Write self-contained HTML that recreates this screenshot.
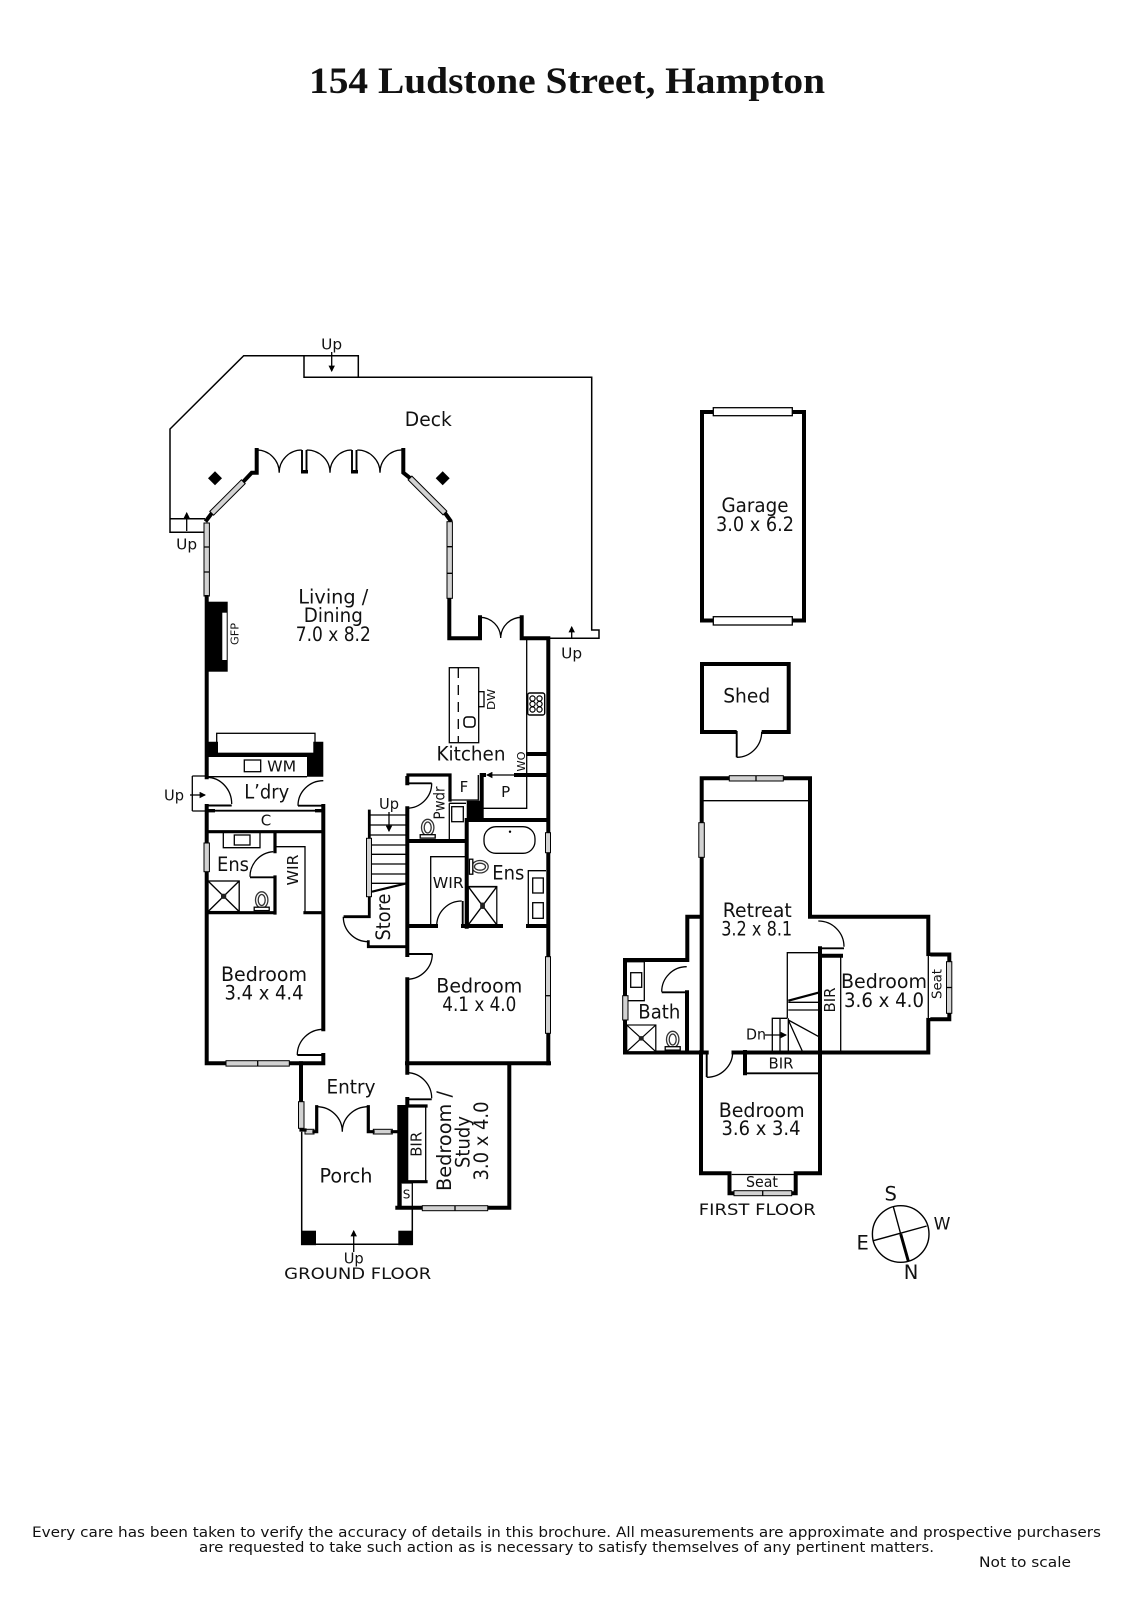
<!DOCTYPE html>
<html><head><meta charset="utf-8"><style>
html,body{margin:0;padding:0;background:#fff}
svg{display:block}
text{font-family:"DejaVu Sans","Liberation Sans",sans-serif;fill:#111;text-anchor:middle}
.l{font-size:19.5px}.m{font-size:15px}.s{font-size:11px}
.w{fill:none;stroke:#000;stroke-width:4;stroke-linecap:square;stroke-linejoin:miter}
.n{fill:none;stroke:#000;stroke-width:1.3}
.g{fill:none;stroke:#000;stroke-width:1.9}
.win{fill:#d2d2d2;stroke:#000;stroke-width:1}
.wht{fill:#fff;stroke:#000;stroke-width:1.3}
</style></head><body>
<svg width="1131" height="1600" viewBox="0 0 1131 1600" xmlns="http://www.w3.org/2000/svg">
<defs>
<marker id="a" viewBox="0 0 6 6" refX="5" refY="3" markerWidth="5" markerHeight="5" orient="auto"><path d="M0 0L6 3L0 6z" fill="#000"/></marker>
<g id="toilet"><ellipse cx="0" cy="0" rx="6.2" ry="8.2" fill="#fff" stroke="#333" stroke-width="1.3"/><ellipse cx="0" cy="0" rx="3.5" ry="5.5" fill="#fff" stroke="#333" stroke-width="1.3"/><rect x="-7.5" y="7.2" width="15" height="3.4" fill="#fff" stroke="#000" stroke-width="1.3"/></g>
<g id="shower"><rect x="0" y="0" width="30" height="30" fill="#fff" stroke="#000" stroke-width="1.3"/><path d="M0 0L30 30M30 0L0 30" class="n"/><rect x="12.5" y="12.5" width="5" height="5" fill="#222"/></g>
</defs>
<rect width="1131" height="1600" fill="#fff"/>
<text x="567" y="93" textLength="516" lengthAdjust="spacingAndGlyphs" style="font-family:'Liberation Serif',serif;font-weight:700;font-size:37px">154 Ludstone Street, Hampton</text>

<!-- Deck -->
<path class="n" style="stroke-width:1.5" d="M205 532.3H170V429L243.7 355.7H358.3V377.3H591.7V630H599V638.3H549M304 355.7V377.3H358.3M170 518.7H205"/>
<path d="M215 471.3L222 478.3L215 485.3L208 478.3zM442.7 471.3L449.7 478.3L442.7 485.3L435.7 478.3z" fill="#000"/>
<path class="w" d="M206.7 520L211.7 513.3M243.3 481.7L251.7 472.7H256.7V450M410 478L403.3 472.7V450M445 513L450 520M449.3 598V638.3H480V617.3M521.7 617.3V638.3H548.3M548.3 638.3V1063.3"/>
<path class="g" d="M302 450V472.7M306.5 450V472.7M352 450V472.7M356.5 450V472.7"/>
<path d="M301 470h7v3.5h-7zM351 470h7v3.5h-7z" fill="#000"/>
<path class="n" d="M256.7 450A22.5 22.7 0 0 1 279.2 472.7M301.7 450A22.5 22.7 0 0 0 279.2 472.7M306.7 450A23.3 22.7 0 0 1 330 472.7M351.7 450A21.7 22.7 0 0 0 330 472.7M357.3 450A22.7 22.7 0 0 1 380 472.7M401.7 450A21.7 22.7 0 0 0 380 472.7M480 617.3A20.7 21 0 0 1 500.7 638M521.7 617.3A21 21 0 0 0 500.7 638"/>
<!-- Living windows -->
<rect class="win" x="204" y="523" width="5.4" height="73"/><path class="n" d="M204 547h5.4M204 572h5.4"/>
<rect class="win" x="447" y="521.7" width="5.4" height="76.6"/><path class="n" d="M447 546.7h5.4M447 573.3h5.4"/>
<g class="win"><path class="win" d="M209.8 511.4L241.4 479.8L245.2 483.6L213.6 515.2z"/><path class="win" d="M411.9 476.1L446.9 511.1L443.1 514.9L408.1 479.9z"/></g>
<!-- GFP -->
<rect x="205" y="601.7" width="22.7" height="70" fill="#000"/><rect x="222.3" y="612.7" width="4.4" height="47.3" fill="#fff"/>
<text class="s" transform="translate(238.5,634) rotate(-90)" textLength="22" lengthAdjust="spacingAndGlyphs">GFP</text>

<!-- Kitchen -->
<rect class="wht" x="449.3" y="667.7" width="29.4" height="75"/>
<path d="M458.3 668V742" fill="none" stroke="#000" stroke-width="1.3" stroke-dasharray="10 7"/>
<rect x="464" y="717" width="11" height="10" rx="3" fill="#fff" stroke="#000" stroke-width="1.5"/>
<rect class="wht" x="478.7" y="691.7" width="5.3" height="15"/>
<text class="s" transform="translate(495,699.5) rotate(-90)" textLength="21" lengthAdjust="spacingAndGlyphs">DW</text>
<path class="n" d="M526.7 638V808.3H481.7"/>
<rect x="527.7" y="693" width="17" height="22" rx="2" fill="#fff" stroke="#000" stroke-width="1.4"/>
<g fill="#fff" stroke="#000" stroke-width="1.2"><circle cx="532.5" cy="698.5" r="2.6"/><circle cx="539.5" cy="698.5" r="2.6"/><circle cx="532.5" cy="704" r="2.6"/><circle cx="539.5" cy="704" r="2.6"/><circle cx="532.5" cy="709.5" r="2.6"/><circle cx="539.5" cy="709.5" r="2.6"/></g>
<path class="w" d="M528 754H546M516 775H546M482 775H484M481.7 775V820"/>
<path class="n" d="M515 775H487" marker-end="url(#a)"/>
<text class="s" transform="translate(525,761.5) rotate(-90)" textLength="20" lengthAdjust="spacingAndGlyphs">WO</text>
<text class="m" x="505.7" y="797">P</text><text class="m" x="464" y="792">F</text>
<path class="w" style="stroke-width:3.2" d="M408 775H450V800"/><path class="n" d="M450 800H478.3V775"/>
<rect x="466.7" y="800.7" width="15" height="19.3" fill="#000"/>
<path class="w" d="M467 820H546M466.7 820V926.7M407.3 783.3V778M407.3 808.3V955M408 841H466"/>
<path class="g" d="M407 783.3H431.7"/>
<path class="n" d="M431.7 783.3A25 25 0 0 1 406.7 808.3"/>
<path class="n" d="M449.3 803.3V840M449.3 803.3H466"/>
<rect class="n" x="451.7" y="806.7" width="11.6" height="15"/>
<use href="#toilet" x="427.7" y="827.5"/>
<text class="m" transform="translate(444.5,803) rotate(-90)" textLength="33" lengthAdjust="spacingAndGlyphs">Pwdr</text>
<!-- stairs -->
<path class="w" style="stroke-width:2.8" d="M369.3 811V897M369.3 897V916.7H345M368.3 941.7V946.7H406.7"/>
<path class="n" d="M369 815H407M369 825H407M369 835H407M369 845H407M369 854.3H407M369 864H407M369 874H407M369 883.3H407"/>
<path class="g" style="stroke-width:2.2" d="M372 891.7L406.7 883.3"/>
<rect class="win" x="366.5" y="838.3" width="5" height="58.4"/>
<path class="n" d="M343.3 916.7A25 25 0 0 0 368.3 941.7"/>
<text class="m" x="389" y="809" textLength="20" lengthAdjust="spacingAndGlyphs">Up</text>
<path class="n" d="M389 812V831" marker-end="url(#a)"/>
<text class="l" transform="translate(390,917) rotate(-90)" textLength="47" lengthAdjust="spacingAndGlyphs">Store</text>
<!-- Ensuite right -->
<rect x="484" y="826.7" width="51" height="26.6" rx="12" fill="#fff" stroke="#000" stroke-width="1.3"/><circle cx="510" cy="831.7" r="1.2" fill="#000"/>
<rect class="win" x="545.5" y="832.7" width="5" height="20"/>
<g transform="translate(480,866.7) rotate(90)"><use href="#toilet"/></g>
<use href="#shower" transform="translate(468.3,886.7) scale(.95,1.27)"/>
<path class="wht" d="M528.3 926V870.7H546"/>
<rect class="n" x="532.7" y="878" width="10.6" height="15"/><rect class="n" x="532.7" y="902.7" width="10.6" height="15.6"/>
<path class="n" d="M430.7 925V856.7H466"/>
<path class="n" d="M436.7 926A25 25 0 0 1 461.7 901"/><path class="g" d="M462.7 901V926"/>
<path class="w" d="M408 926H436M463 926H501M528 926H547"/>
<text class="m" x="448.3" y="888" textLength="31" lengthAdjust="spacingAndGlyphs">WIR</text>
<text class="l" x="508.3" y="879.5" textLength="32" lengthAdjust="spacingAndGlyphs">Ens</text>
<text class="l" x="471" y="760.5" textLength="69" lengthAdjust="spacingAndGlyphs">Kitchen</text>

<!-- L'dry -->
<rect class="wht" x="216.7" y="733.3" width="98.3" height="20"/>
<path d="M206.7 741.7H218V755H206.7zM313.3 741.7H323.3V776.7H307V755H313.3z" fill="#000"/>
<path class="w" d="M207 755H320"/>
<path class="n" d="M208 776.7H307"/>
<rect class="n" x="244.3" y="760" width="16.4" height="11.7"/>
<text class="m" x="281.7" y="771.5" textLength="29" lengthAdjust="spacingAndGlyphs">WM</text>
<path class="w" d="M206.7 597V777.3M206.7 806V1063.3H323.3V1055M323.3 806V1029.3"/>
<path class="n" d="M206.7 777.3A25 26.7 0 0 1 231.7 804M323.3 780.7A25.3 25 0 0 0 298 805.7M192.3 811H205M192.3 776H205M192.3 776V811"/>
<path class="g" d="M206.7 805.5H231.7M298 805.7H323.3M206.7 810.7H323.3"/>
<path d="M207 809h8v3.4h-8zM315 809h8v3.4h-8z" fill="#000"/>
<path class="n" d="M190 795H205" marker-end="url(#a)"/>
<text class="m" x="174" y="800.5" textLength="20" lengthAdjust="spacingAndGlyphs">Up</text>
<text class="l" x="266.7" y="798.5" textLength="45" lengthAdjust="spacingAndGlyphs">L’dry</text>
<text class="m" x="266" y="825.5">C</text>
<path class="w" style="stroke-width:3.2" d="M207 831.7H323M207 912.7H275M275 831.7V851.7M275 877V913M305 912.7H323"/>
<path class="n" d="M223.3 833V847.7H260V833M275 846.7H305V912"/><rect class="n" x="234.3" y="835" width="15.7" height="10"/>
<path class="n" d="M273.3 851.7A25 25 0 0 0 250 876.7"/><path class="g" d="M250 877.3H275"/>
<use href="#shower" transform="translate(208,881) scale(1.04,1.02)"/>
<use href="#toilet" x="261.7" y="900"/>
<text class="l" x="233" y="871" textLength="32" lengthAdjust="spacingAndGlyphs">Ens</text>
<text class="m" transform="translate(298,870) rotate(-90)" textLength="31" lengthAdjust="spacingAndGlyphs">WIR</text>
<rect class="win" x="204" y="843" width="5.4" height="28.7"/>

<!-- Bedrooms -->
<rect class="win" x="226" y="1060.7" width="63.3" height="5.4"/><path class="n" d="M257.7 1060.7v5.4"/>
<path class="n" d="M323.3 1029.3A26 25.7 0 0 0 297.3 1055"/><path class="g" d="M297.3 1055H323.3"/>
<text class="l" x="264" y="981" textLength="86" lengthAdjust="spacingAndGlyphs">Bedroom</text>
<text class="l" x="264" y="999.5" textLength="79" lengthAdjust="spacingAndGlyphs">3.4 x 4.4</text>
<rect class="win" x="545.5" y="956.7" width="5" height="76.6"/><path class="n" d="M545.5 995.7h5"/>
<path class="g" d="M407 954H432.3"/>
<path class="w" d="M407.3 979.3V1072.7M407.3 1099V1104"/>
<path class="n" d="M432.3 954A25.6 25.3 0 0 1 406.7 979.3"/>
<path class="w" d="M407 1063.3H549M509.3 1063.3V1207.7H489M421 1207.7H397.3M301 1063.3V1102"/>
<text class="l" x="479.3" y="992.5" textLength="86" lengthAdjust="spacingAndGlyphs">Bedroom</text>
<text class="l" x="479.3" y="1011" textLength="74" lengthAdjust="spacingAndGlyphs">4.1 x 4.0</text>
<!-- Entry, porch -->
<text class="l" x="351" y="1093.5" textLength="49" lengthAdjust="spacingAndGlyphs">Entry</text>
<rect class="win" x="298.5" y="1101.7" width="5.5" height="26.6"/>
<rect class="win" x="305" y="1129.3" width="9" height="4.7"/><rect class="win" x="373.3" y="1129.3" width="19" height="4.7"/>
<path class="w" style="stroke-width:3.2" d="M301 1130H305M316.7 1106.7V1131.7H314M368.3 1106.7V1131.7H373M392.3 1131.7H397"/>
<path class="n" d="M316.7 1106.7A25.6 25 0 0 1 342.3 1131.7M368.3 1106.7A26 25 0 0 0 342.3 1131.7"/>
<path d="M397.3 1105H408.3V1183H401.7V1207H397.3z" fill="#000"/>
<path class="w" style="stroke-width:3.2" d="M408 1106H426M408 1181.7H426"/>
<path class="n" d="M425.7 1106V1182M401.7 1183H412.3V1207"/>
<path class="n" d="M407 1072.7A25 25.6 0 0 1 431.7 1098.3"/><path class="g" d="M407 1099.3H431.7"/>
<text class="m" transform="translate(421.5,1144.3) rotate(-90)" textLength="25" lengthAdjust="spacingAndGlyphs">BIR</text>
<text class="m" x="406.5" y="1198.5" style="font-size:12px">S</text>
<rect class="win" x="422.3" y="1205.7" width="65.4" height="5"/><path class="n" d="M455 1205.7v5"/>
<text class="l" transform="translate(451,1141) rotate(-90)" textLength="100" lengthAdjust="spacingAndGlyphs">Bedroom /</text>
<text class="l" transform="translate(469.5,1142) rotate(-90)" textLength="52" lengthAdjust="spacingAndGlyphs">Study</text>
<text class="l" transform="translate(488,1141) rotate(-90)" textLength="79" lengthAdjust="spacingAndGlyphs">3.0 x 4.0</text>
<path class="n" style="stroke-width:1.5" d="M301.7 1131.7V1244.3H412.3V1207"/>
<rect x="301" y="1230.7" width="15" height="14.5" fill="#000"/><rect x="398.3" y="1230.7" width="14.4" height="14.5" fill="#000"/>
<path class="n" d="M353.7 1252V1231" marker-end="url(#a)"/>
<text class="l" x="346" y="1182.5" textLength="53" lengthAdjust="spacingAndGlyphs">Porch</text>
<text class="m" x="353.7" y="1263.5" textLength="20" lengthAdjust="spacingAndGlyphs">Up</text>
<text class="m" x="357.7" y="1279" style="font-size:16px" textLength="147" lengthAdjust="spacingAndGlyphs">GROUND FLOOR</text>
<!-- Deck labels -->
<text class="l" x="428.3" y="426" textLength="47" lengthAdjust="spacingAndGlyphs">Deck</text>
<text class="l" x="333.3" y="603.5" textLength="70" lengthAdjust="spacingAndGlyphs">Living /</text>
<text class="l" x="333.3" y="622" textLength="59" lengthAdjust="spacingAndGlyphs">Dining</text>
<text class="l" x="333.3" y="641" textLength="75" lengthAdjust="spacingAndGlyphs">7.0 x 8.2</text>
<text class="m" x="331.7" y="349.5" textLength="21" lengthAdjust="spacingAndGlyphs">Up</text>
<path class="n" d="M331.7 352V371" marker-end="url(#a)"/>
<text class="m" x="186.7" y="549.5" textLength="21" lengthAdjust="spacingAndGlyphs">Up</text>
<path class="n" d="M186.7 531V513" marker-end="url(#a)"/>
<text class="m" x="571.7" y="658.5" textLength="21" lengthAdjust="spacingAndGlyphs">Up</text>
<path class="n" d="M571.7 638V627" marker-end="url(#a)"/>

<!-- Garage -->
<rect x="702" y="412" width="102" height="208.5" fill="none" stroke="#000" stroke-width="4"/>
<rect class="wht" x="713.3" y="407.7" width="79" height="8"/><rect class="wht" x="713.3" y="616.7" width="79" height="8.3"/>
<text class="l" x="755" y="512" textLength="67" lengthAdjust="spacingAndGlyphs">Garage</text>
<text class="l" x="755" y="531" textLength="78" lengthAdjust="spacingAndGlyphs">3.0 x 6.2</text>
<!-- Shed -->
<path d="M736.7 732H702V664H788.7V732H761.7" fill="none" stroke="#000" stroke-width="4"/>
<path class="g" d="M736.7 731V757.3"/><path class="n" d="M736.7 757.3A25 25.6 0 0 0 761.7 731.7"/>
<text class="l" x="746.7" y="702.5" textLength="47" lengthAdjust="spacingAndGlyphs">Shed</text>

<!-- First floor -->
<path class="w" d="M701.7 1052.3V778.3H810V916.7H928.3V954.5H949.3V1019.3H928.3M928.3 1019.3V1052.5H733.5M701.7 916.7H687.3V960H625V1052.5H706.7M701 1052.3V1173.3H729.5V1193.3H795.7V1173.3H820V948.3M687 992.3V1052M745 1052V1073.3M820 955.7H841"/>
<path d="M928.3 956V1018" fill="none" stroke="#fff" stroke-width="4"/><path class="n" d="M928.3 956V1018"/>
<path class="n" d="M702 800.7H810"/>
<rect class="win" x="729.3" y="775.7" width="54" height="5.3"/><path class="n" d="M756 775.7v5.3"/>
<rect class="win" x="698.8" y="822.7" width="5.5" height="34.6"/>
<path class="n" d="M818.3 921A25.7 25.7 0 0 1 844 946.7"/><path class="g" d="M819 948.3H844"/>
<text class="l" x="757.3" y="917" textLength="69" lengthAdjust="spacingAndGlyphs">Retreat</text>
<text class="l" x="756.7" y="935.5" textLength="71" lengthAdjust="spacingAndGlyphs">3.2 x 8.1</text>
<path class="n" d="M787.3 1018V952.7H819M840.7 955.7V1051.7M788.3 1002.3H818M788.3 1010H818M787.3 1018.3H772.3V1051M780 1018.3V1051M788.3 1018.3V1051M788.3 1020L820 1037.3M788.3 1020L802.7 1052"/>
<path class="g" style="stroke-width:2.2" d="M788.3 1000.7L818.3 992.7"/>
<path class="n" d="M765 1035H786" marker-end="url(#a)"/>
<text class="m" x="756" y="1039.5" textLength="20" lengthAdjust="spacingAndGlyphs">Dn</text>
<text class="m" transform="translate(835,1000) rotate(-90)" textLength="25" lengthAdjust="spacingAndGlyphs">BIR</text>
<text class="l" x="884" y="988" textLength="86" lengthAdjust="spacingAndGlyphs">Bedroom</text>
<text class="l" x="884" y="1007" textLength="80" lengthAdjust="spacingAndGlyphs">3.6 x 4.0</text>
<rect class="win" x="946.5" y="961.7" width="5.3" height="51.6"/><path class="n" d="M946.5 987.5h5.3"/>
<text class="s" transform="translate(941.5,984) rotate(-90)" style="font-size:13px" textLength="30" lengthAdjust="spacingAndGlyphs">Seat</text>
<!-- Bath -->
<path class="n" d="M686.7 966.7A25 25 0 0 0 661.7 991.7"/><path class="g" d="M661.7 992.3H687"/>
<path class="n" d="M626.7 961.7H644.3V1000.7H626.7"/><rect class="n" x="630.7" y="972.7" width="11" height="14.6"/>
<rect class="win" x="622.7" y="995.7" width="5.3" height="24.3"/>
<use href="#shower" transform="translate(626.7,1025) scale(.97,.89)"/>
<use href="#toilet" x="672.7" y="1039.5"/>
<text class="l" x="659.3" y="1018.5" textLength="42" lengthAdjust="spacingAndGlyphs">Bath</text>
<!-- First bedroom -->
<path class="g" d="M706.7 1052.3V1077"/><path class="n" d="M706.7 1077.3A26 25.3 0 0 0 732.7 1052.3"/>
<path class="g" d="M745 1073.3H818"/>
<text class="m" x="781" y="1068.5" textLength="25" lengthAdjust="spacingAndGlyphs">BIR</text>
<text class="l" x="761.7" y="1117" textLength="86" lengthAdjust="spacingAndGlyphs">Bedroom</text>
<text class="l" x="761" y="1135" textLength="79" lengthAdjust="spacingAndGlyphs">3.6 x 3.4</text>
<path class="n" d="M731.7 1174.5H794.3"/>
<rect class="win" x="734" y="1190.7" width="57.7" height="5"/><path class="n" d="M762.7 1190.7v5"/>
<text class="m" x="762" y="1187" textLength="32" lengthAdjust="spacingAndGlyphs">Seat</text>
<text class="m" x="757.3" y="1215" style="font-size:16px" textLength="117" lengthAdjust="spacingAndGlyphs">FIRST FLOOR</text>
<!-- Compass -->
<circle cx="900.7" cy="1234" r="28.3" fill="none" stroke="#000" stroke-width="1.4"/>
<path class="n" style="stroke-width:1.4" d="M893.3 1206.7L900.7 1234M873.3 1240.7L926.7 1226"/>
<path d="M900.7 1234L908.3 1261" fill="none" stroke="#000" stroke-width="3"/>
<text class="l" x="890.7" y="1200.5">S</text><text class="l" x="942" y="1229.5" style="font-size:17px">W</text><text class="l" x="862.7" y="1249.5">E</text><text class="l" x="911" y="1279">N</text>

<!-- Footer -->
<text x="566.5" y="1537" style="font-size:14px" textLength="1069" lengthAdjust="spacingAndGlyphs">Every care has been taken to verify the accuracy of details in this brochure.  All measurements are approximate and prospective purchasers</text>
<text x="566.5" y="1552" style="font-size:14px" textLength="735" lengthAdjust="spacingAndGlyphs">are requested to take such action as is necessary to satisfy themselves of any pertinent matters.</text>
<text x="1025" y="1567" style="font-size:14px" textLength="92" lengthAdjust="spacingAndGlyphs">Not to scale</text>
</svg>
</body></html>
